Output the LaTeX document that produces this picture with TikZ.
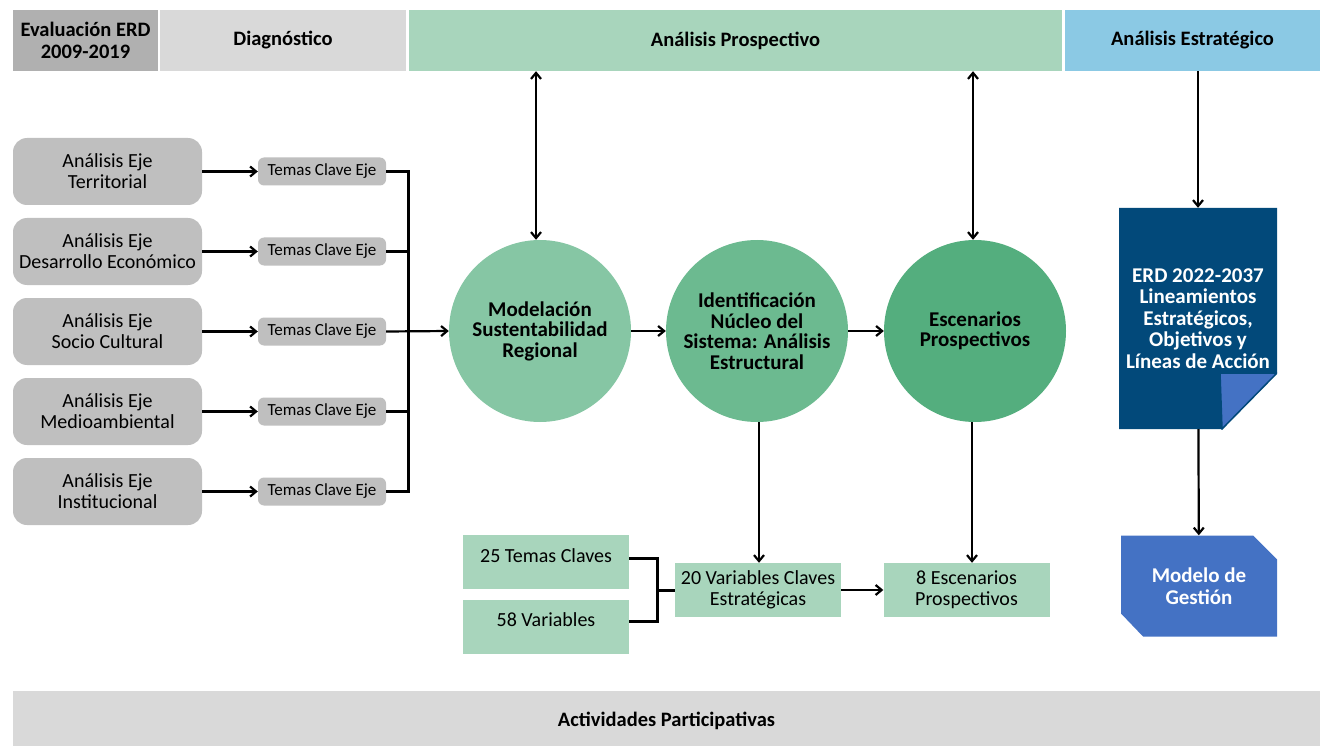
\documentclass[tikz,border=0pt]{standalone}
\usepackage{fontspec}
\setmainfont{Carlito}
\usetikzlibrary{arrows.meta}

\definecolor{evalgray}{HTML}{B0B0B0}
\definecolor{lightgray}{HTML}{D9D9D9}
\definecolor{ejegray}{HTML}{BFBFBF}
\definecolor{prospgreen}{HTML}{A8D5BC}
\definecolor{estratblue}{HTML}{8BC9E4}
\definecolor{greenA}{HTML}{86C6A4}
\definecolor{greenB}{HTML}{6CBA90}
\definecolor{greenC}{HTML}{54AE7E}
\definecolor{docblue}{HTML}{02497A}
\definecolor{lightblue}{HTML}{4472C4}

\begin{document}
\begin{tikzpicture}[x=1pt, y=-1pt,
        head/.style={rectangle, inner sep=0pt, minimum height=61pt, align=center, font=\fontsize{20.5}{22}\selectfont\bfseries},
        eje/.style={rectangle, rounded corners=14pt, fill=ejegray, inner sep=0pt, minimum width=189pt, minimum height=67pt, align=center, font=\fontsize{20}{21}\selectfont},
        tema/.style={rectangle, rounded corners=6pt, fill=ejegray, inner sep=0pt, minimum width=128pt, minimum height=28pt, font=\fontsize{17}{18}\selectfont},
        etapa/.style={circle, inner sep=0pt, minimum size=182pt, align=center, font=\fontsize{21}{20.5}\selectfont\bfseries},
        dato/.style={rectangle, fill=prospgreen, inner sep=0pt, minimum width=166pt, minimum height=54pt, align=center, font=\fontsize{20}{21}\selectfont},
        dato top/.style={dato, text height=27pt, text depth=27pt},
        arrow edge/.style={draw, line width=2.2pt, -{Straight Barb[length=6pt, width=10pt]}},
        double edge/.style={draw, line width=2.2pt, {Straight Barb[length=6pt, width=10pt]}-{Straight Barb[length=6pt, width=10pt]}},
        bracket edge/.style={draw, line width=3pt},
    ]
	\useasboundingbox (0,0) rectangle (1320,746);
	\node[head, fill=evalgray, minimum width=145pt] (eval) at (85.5,40.5) {Evaluación ERD\\2009-2019};
	\node[head, fill=lightgray, minimum width=246pt] (diag) at (283,40.5) {Diagnóstico};
	\node[head, fill=prospgreen, minimum width=653pt] (prosp) at (735.5,40.5) {Análisis Prospectivo};
	\node[head, fill=estratblue, minimum width=255pt] (estrat) at (1192.5,40.5) {Análisis Estratégico};
	\node[eje] (eje_1) at (107.5,171.5) {Análisis Eje\\Territorial};
	\node[eje] (eje_2) at (107.5,251.5) {Análisis Eje\\Desarrollo Económico};
	\node[eje] (eje_3) at (107.5,331.5) {Análisis Eje\\Socio Cultural};
	\node[eje] (eje_4) at (107.5,411.5) {Análisis Eje\\Medioambiental};
	\node[eje] (eje_5) at (107.5,491.5) {Análisis Eje\\Institucional};
	\node[tema] (tema_1) at (322,171.5) {Temas Clave Eje};
	\node[tema] (tema_2) at (322,251.5) {Temas Clave Eje};
	\node[tema] (tema_3) at (322,331.5) {Temas Clave Eje};
	\node[tema] (tema_4) at (322,411.5) {Temas Clave Eje};
	\node[tema] (tema_5) at (322,491.5) {Temas Clave Eje};
	\coordinate (bus) at (408,331.5);
	\node[etapa, fill=greenA] (m_1) at (540,331) {Modelación\\Sustentabilidad\\Regional};
	\node[etapa, fill=greenB] (m_2) at (757,331) {Identificación\\Núcleo del\\Sistema: Análisis\\Estructural};
	\node[etapa, fill=greenC] (m_3) at (975,331) {Escenarios\\Prospectivos};
	\node[dato top] (t_25) at (546,562) {25 Temas Claves};
	\node[dato top] (v_58) at (546,626.5) {58 Variables};
	\coordinate (mix) at (657,590);
	\node[dato] (v_20) at (758,590) {20 Variables Claves\\Estratégicas};
	\node[dato] (e_8) at (966.5,590) {8 Escenarios\\Prospectivos};
	\node[rectangle, inner sep=0pt, minimum width=158pt, minimum height=221pt, align=center,
	    text=white, font=\fontsize{21}{21.5}\selectfont\bfseries,
	    path picture={
	        \fill[docblue] (path picture bounding box.north west) -- (path picture bounding box.north east)
	            -- ([yshift=56pt]path picture bounding box.south east) -- ([xshift=-55pt]path picture bounding box.south east)
	            -- (path picture bounding box.south west) -- cycle;
	        \filldraw[fill=lightblue, draw=docblue, line width=1.5pt] ([xshift=-57pt, yshift=56pt]path picture bounding box.south east)
	            -- ([yshift=56pt]path picture bounding box.south east) -- ([xshift=-55pt]path picture bounding box.south east) -- cycle;
	    }] (doc) at (1198,318.5) {ERD 2022-2037\\Lineamientos\\Estratégicos,\\Objetivos y\\Líneas de Acción};
	\node[rectangle, inner sep=0pt, minimum width=156pt, minimum height=101pt, align=center,
	    text=white, font=\fontsize{21}{21.5}\selectfont\bfseries,
	    path picture={
	        \fill[lightblue] (path picture bounding box.north west) -- ([xshift=-24pt]path picture bounding box.north east)
	            -- ([yshift=-24pt]path picture bounding box.north east) -- (path picture bounding box.south east)
	            -- ([xshift=22pt]path picture bounding box.south west) -- ([yshift=23pt]path picture bounding box.south west) -- cycle;
	    }] (modelo) at (1199,586) {Modelo de\\Gestión};
	\node[rectangle, fill=lightgray, inner sep=0pt, minimum width=1307pt, minimum height=55pt,
	    text height=18.5pt, text depth=2pt, font=\fontsize{20.5}{22}\selectfont\bfseries] (part) at (666.5,718.5) {Actividades Participativas};
	\draw[arrow edge] (eje_1) -- (tema_1);
	\draw[arrow edge] (eje_2) -- (tema_2);
	\draw[arrow edge] (eje_3) -- (tema_3);
	\draw[arrow edge] (eje_4) -- (tema_4);
	\draw[arrow edge] (eje_5) -- (tema_5);
	\draw[bracket edge] (tema_1.east) -| (bus);
	\draw[bracket edge] (tema_5.east) -| (bus);
	\draw[bracket edge] (tema_2.east) -- (tema_2.east -| bus);
	\draw[bracket edge] (tema_4.east) -- (tema_4.east -| bus);
	\draw[arrow edge] (tema_3.east) -- (m_1.west);
	\draw[arrow edge] (m_1) -- (m_2);
	\draw[arrow edge] (m_2) -- (m_3);
	\draw[double edge] ([xshift=-4pt]m_1.north |- prosp.south) -- ([xshift=-4pt]m_1.north);
	\draw[double edge] ([xshift=-2pt]m_3.north |- prosp.south) -- ([xshift=-2pt]m_3.north);
	\draw[arrow edge] ([xshift=2pt]m_2.south) -- ([xshift=2pt]m_2.south |- v_20.north);
	\draw[arrow edge] ([xshift=-3pt]m_3.south) -- ([xshift=-3pt]m_3.south |- e_8.north);
	\draw[bracket edge] ([yshift=4pt]t_25.east) -| (mix) |- ([yshift=5.5pt]v_58.east);
	\draw[bracket edge] (mix) -- (v_20.west);
	\draw[arrow edge] (v_20) -- (e_8);
	\draw[arrow edge] (doc.north |- estrat.south) -- (doc.north);
	\draw[arrow edge] (doc) -- (modelo);
\end{tikzpicture}
\end{document}
